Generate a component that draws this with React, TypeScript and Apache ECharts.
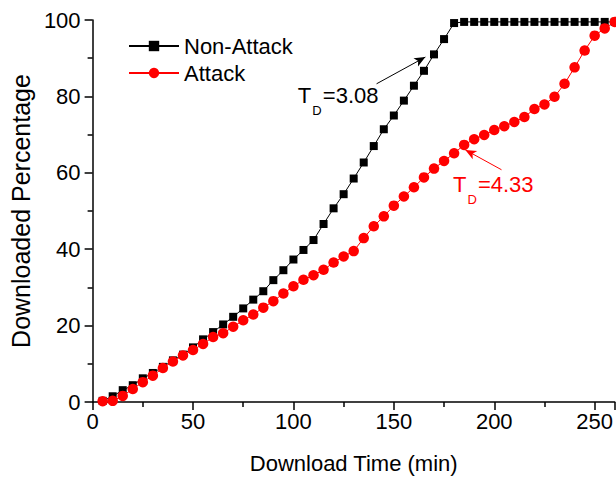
import React, { useEffect, useRef } from "react";
import * as echarts from "echarts";

const times = [5, 10, 15, 20, 25, 30, 35, 40, 45, 50, 55, 60, 65, 70, 75, 80, 85, 90, 95, 100,
  105, 110, 115, 120, 125, 130, 135, 140, 145, 150, 155, 160, 165, 170, 175, 180, 185, 190, 195, 200,
  205, 210, 215, 220, 225, 230, 235, 240, 245, 250, 255, 260];

const nonAttack = [0.3, 1.5, 3.1, 4.4, 6.2, 7.6, 9.2, 10.9, 12.4, 14.3, 16.4, 18.3, 20.3, 22.3, 24.5, 26.8, 29.0, 31.9, 34.5, 37.3,
  39.8, 42.4, 46.6, 50.7, 54.4, 58.5, 62.7, 67.0, 71.4, 75.0, 78.9, 82.8, 86.7, 91.0, 95.0, 99.2, 99.5, 99.5, 99.5, 99.5,
  99.5, 99.5, 99.5, 99.5, 99.5, 99.5, 99.5, 99.5, 99.5, 99.5, 99.5, 99.5];

const attack = [0.2, 0.3, 1.6, 3.4, 5.2, 6.9, 8.9, 10.6, 12.2, 13.6, 15.2, 17.0, 18.0, 19.7, 21.4, 22.9, 24.7, 26.4, 28.4, 30.3,
  32.0, 33.2, 34.6, 36.5, 38.1, 39.5, 42.9, 46.0, 48.6, 51.4, 53.8, 56.2, 58.8, 61.1, 63.1, 65.1, 67.3, 68.8, 69.9, 71.2,
  72.2, 73.3, 74.6, 76.7, 77.9, 79.9, 83.3, 87.6, 92.0, 95.9, 97.8, 99.5];

const seriesNames = ["Non-Attack", "Attack"];
const xTitle = "Download Time (min)";
const yTitle = "Downloaded Percentage";

// annotation: arrow tail/head (data coords) and text anchor (data coords)
const blackArrow = [[141.4, 83.3], [165.7, 90.3]];
const redArrow = [[203.6, 60.8], [185.6, 66.0]];
const blackLabelAnchor = [102.2, 80.3];
const redLabelAnchor = [179.4, 57.0];
const blackLabelValue = "=3.08";
const redLabelValue = "=4.33";

const FONT = "'Liberation Sans', Arial, sans-serif";

export default function App() {
  const ref = useRef<HTMLDivElement>(null);
  useEffect(() => {
    if (!ref.current) return;
    const chart = echarts.init(ref.current, undefined, { renderer: "svg" });
    const axisCommon = {
      axisLine: { show: true, lineStyle: { color: "#000", width: 1.5 } },
      axisTick: { show: true, inside: false, length: 8, lineStyle: { color: "#000", width: 1.5 } },
      minorTick: { show: true, splitNumber: 2, length: 5, lineStyle: { color: "#000", width: 1.5 } },
      splitLine: { show: false },
      minorSplitLine: { show: false },
      nameLocation: "middle" as const,
    };
    chart.setOption({
      animation: false,
      backgroundColor: "#fff",
      grid: { left: 92, right: 1, top: 20, bottom: 73, containLabel: false },
      legend: {
        data: seriesNames,
        orient: "vertical",
        left: 123,
        top: 30,
        itemWidth: 50,
        itemHeight: 13,
        itemGap: 5,
        textStyle: { fontFamily: FONT, fontSize: 22, color: "#000" },
      },
      xAxis: {
        type: "value",
        min: 0,
        max: 260,
        interval: 50,
        name: xTitle,
        nameGap: 50,
        nameTextStyle: { fontFamily: FONT, fontSize: 22, color: "#000" },
        ...axisCommon,
        axisLabel: { fontFamily: FONT, fontSize: 22, color: "#000", margin: 8, showMaxLabel: false },
      },
      yAxis: {
        type: "value",
        min: 0,
        max: 100,
        interval: 20,
        name: yTitle,
        nameGap: 57,
        nameTextStyle: { fontFamily: FONT, fontSize: 25, color: "#000" },
        ...axisCommon,
        axisLabel: { fontFamily: FONT, fontSize: 22, color: "#000", margin: 12 },
      },
      series: [
        {
          name: seriesNames[0],
          type: "line",
          data: times.map((t, i) => [t, nonAttack[i]]),
          symbol: "rect",
          symbolSize: 8,
          itemStyle: { color: "#000" },
          lineStyle: { color: "#000", width: 1 },
          clip: false,
          markLine: {
            silent: true,
            symbol: ["none", "arrow"],
            symbolSize: [7, 11],
            label: { show: false },
            lineStyle: { color: "#000", width: 1, type: "solid" },
            data: [[{ coord: blackArrow[0] }, { coord: blackArrow[1] }]],
          },
        },
        {
          name: seriesNames[1],
          type: "line",
          data: times.map((t, i) => [t, attack[i]]),
          symbol: "circle",
          symbolSize: 10.5,
          itemStyle: { color: "#ff0000" },
          lineStyle: { color: "#ff0000", width: 1 },
          clip: false,
          markLine: {
            silent: true,
            symbol: ["none", "arrow"],
            symbolSize: [7, 11],
            label: { show: false },
            lineStyle: { color: "#ff0000", width: 1, type: "solid" },
            data: [[{ coord: redArrow[0] }, { coord: redArrow[1] }]],
          },
        },
      ],
    });

    const mkLabel = (anchor: number[], value: string, color: string) => {
      const p = chart.convertToPixel({ gridIndex: 0 }, anchor) as number[];
      return {
        type: "group",
        x: p[0],
        y: p[1],
        children: [
          { type: "text", x: 0, y: 0, style: { text: "T", fill: color, font: `22px ${FONT}`, verticalAlign: "middle", align: "left" } },
          { type: "text", x: 14.5, y: 15, style: { text: "D", fill: color, font: `13px ${FONT}`, verticalAlign: "middle", align: "left" } },
          { type: "text", x: 25, y: 0, style: { text: value, fill: color, font: `22px ${FONT}`, verticalAlign: "middle", align: "left" } },
        ],
      };
    };
    chart.setOption({
      graphic: [
        mkLabel(blackLabelAnchor, blackLabelValue, "#000"),
        mkLabel(redLabelAnchor, redLabelValue, "#ff0000"),
      ],
    });
    return () => chart.dispose();
  }, []);
  return (
    <div
      ref={ref}
      style={{ position: "absolute", left: 0, top: 0, width: 616, height: 479, background: "#fff" }}
    />
  );
}
